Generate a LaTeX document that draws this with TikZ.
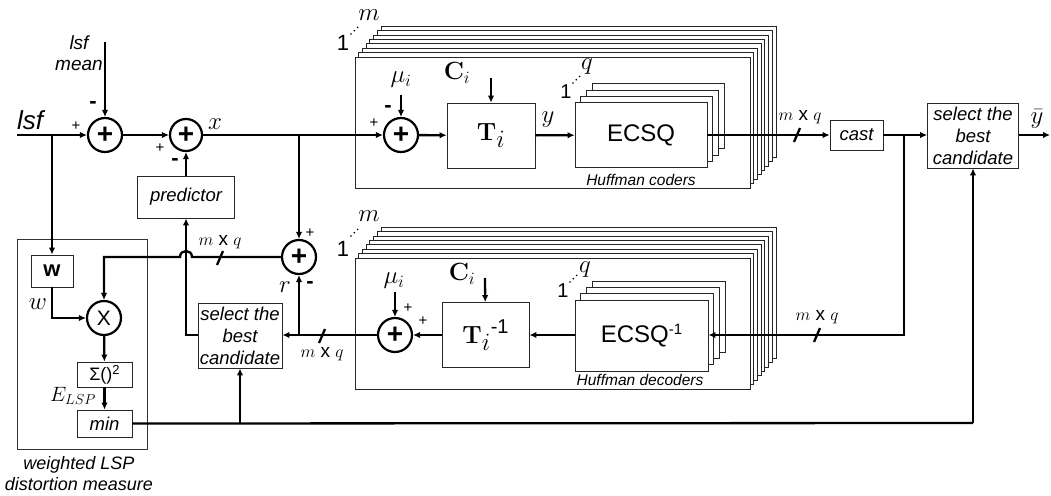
\documentclass[tikz,border=0pt]{standalone}
\usepackage[no-math]{fontspec}
\setmainfont{Liberation Sans}
\usetikzlibrary{arrows.meta}
\newcommand\fsz[1]{\fontsize{#1}{#1}\selectfont}
\begin{document}
\begin{tikzpicture}[x=1pt,y=-1pt,
  sigline/.style={line width=2.3pt},
  arr/.style={line width=2.3pt,-{Latex[length=7pt,width=6.5pt]}},
  slsh/.style={line width=2.3pt},
  blk/.style={draw=black!85,line width=0.8pt,fill=white,inner sep=1pt,align=center},
  stk/.style={draw=black!85,line width=0.8pt,fill=white},
  sumc/.style={circle,draw=black,line width=2.2pt,fill=white,minimum size=34pt,inner sep=0pt,font=\fsz{28}\bfseries},
  it/.style={font=\fontsize{18.5}{22}\selectfont\itshape},
  pm/.style={font=\fsz{15},inner sep=0pt},
  mn/.style={font=\fsz{22}\bfseries,inner sep=0pt},
  mxq/.style={font=\fsz{19},inner sep=0pt},
  mth/.style={font=\fsz{26},inner sep=0pt},
  one/.style={font=\fsz{22},inner sep=0pt}
]
\useasboundingbox (0,0) rectangle (1051,495);

% ---------- weighted LSP distortion measure frame ----------
\draw[draw=black!80,line width=0.8pt] (17,239) rectangle (147,449);
\node[align=center,font=\fontsize{18}{21}\selectfont\itshape] (wlab) at (79,474) {weighted LSP\\distortion measure};

% ---------- encoder stack ----------
\foreach \k in {7,6,...,1}
  \draw[stk] (355+3.7*\k,57-4.4*\k) rectangle (750+3.7*\k,188-4.4*\k);
\draw[stk] (355,57) rectangle (750,188);
\node[one] (e1) at (343,43) {1};
\foreach \t in {0,1,2} \fill (351+3.3*\t,34-3.3*\t) circle (0.9pt);
\node[mth] (em) at (369,15) {$m$};

% ---------- decoder stack ----------
\foreach \k in {7,6,...,1}
  \draw[stk] (355+3.7*\k,258-4.4*\k) rectangle (750+3.7*\k,389-4.4*\k);
\draw[stk] (355,258) rectangle (750,389);
\node[one] (d1) at (343,249) {1};
\foreach \t in {0,1,2} \fill (351+3.3*\t,236-3.3*\t) circle (0.9pt);
\node[mth] (dm) at (369,216) {$m$};

% ---------- encoder contents ----------
\node[sumc] (es) at (401,135) {+};
\node[font=\fsz{25},inner sep=0pt] (emu) at (401,80) {$\mu_i$};
\coordinate (emuc) at (401,95);
\node[mn] (esm) at (388,109) {-};
\node[pm] (esp) at (374,123) {+};
\node[blk,minimum width=88,minimum height=65,font=\fsz{34}] (ti) at (491,135.5) {$\mathbf{T}_i$};
\node[font=\fsz{26},inner sep=0pt] (eci) at (457,73) {$\mathbf{C}_i$};
\coordinate (ecic) at (491,78);
\node[mth] (ylab) at (548,120) {$y$};
\foreach \k in {3,2,1}
  \draw[stk] (575+5.7*\k,102.5-6.3*\k) rectangle (707+5.7*\k,167.5-6.3*\k);
\node[blk,minimum width=132,minimum height=65,font=\fsz{24}] (ecsq) at (641,135) {ECSQ};
\node[one,font=\fsz{20}] (eq1) at (566,92) {1};
\foreach \t in {0,1,2} \fill (573+3.3*\t,83-3.3*\t) circle (0.9pt);
\node[mth] (eq) at (587,67) {$q$};
\node[font=\fsz{15.5}\itshape,inner sep=0pt] (hc) at (641,180) {Huffman coders};

% ---------- decoder contents ----------
\node[sumc] (ds) at (395,335) {+};
\node[font=\fsz{25},inner sep=0pt] (dmu) at (394,281) {$\mu_i$};
\coordinate (dmuc) at (395,292);
\node[pm] (dsp1) at (408,308) {+};
\node[pm] (dsp2) at (423,321) {+};
\node[blk,minimum width=87,minimum height=65,font=\fsz{34}] (tinv) at (485.5,335) {$\mathbf{T}_i$\raisebox{10pt}{\fsz{20}-1}};
\node[font=\fsz{26},inner sep=0pt] (dci) at (462,274) {$\mathbf{C}_i$};
\coordinate (dcic) at (485,278);
\foreach \k in {3,2,1}
  \draw[stk] (575+5.7*\k,300-6.3*\k) rectangle (708+5.7*\k,371-6.3*\k);
\node[blk,minimum width=133,minimum height=71,font=\fsz{24}] (ecsqi) at (641.5,335.5) {ECSQ\raisebox{8pt}{\fsz{15}-1}};
\node[one,font=\fsz{20}] (dq1) at (563,291) {1};
\foreach \t in {0,1,2} \fill (570+3.3*\t,282-3.3*\t) circle (0.9pt);
\node[mth] (dq) at (585,270) {$q$};
\node[font=\fsz{15.5}\itshape,inner sep=0pt] (hd) at (640,380) {Huffman decoders};

% ---------- left part ----------
\coordinate (lsfin) at (17,135);
\node[font=\fsz{26}\itshape,inner sep=0pt] (lsfl) at (30,120) {lsf};
\node[sumc] (s1) at (105,135) {+};
\coordinate (lmc) at (105,42);
\node[font=\fontsize{19}{21}\selectfont\itshape,align=center,inner sep=0pt] (lml) at (79,53) {lsf\\mean};
\node[mn] (s1m) at (93,105) {-};
\node[pm] (s1p) at (76,126) {+};
\node[sumc,minimum size=32pt] (s2) at (186,135) {+};
\node[mth] (xl) at (215,124) {$x$};
\node[pm] (s2p) at (160,148) {+};
\node[mn] (s2m) at (175,162) {-};
\node[blk,minimum width=97,minimum height=42,it] (pred) at (186,197) {predictor};
\node[sumc] (s3) at (299,257) {+};
\node[pm] (s3p) at (310,233) {+};
\node[mth] (rl) at (285,287) {$r$};
\node[mn] (s3m) at (310,285) {-};

\node[blk,minimum width=84,minimum height=65,it] (sel2) at (240,335.5) {select the\\best\\candidate};
\node[blk,minimum width=42,minimum height=32,font=\fsz{22}\bfseries] (wbox) at (52,271) {w};
\node[mth] (wl) at (38,304) {$w$};
\node[sumc,font=\fsz{21}] (xm) at (104,318) {X};
\node[blk,minimum width=55,minimum height=25,font=\fsz{18}] (sgm) at (104.5,374.5) {Σ()\raisebox{6pt}{\fsz{13}2}};
\node[font=\fsz{22},inner sep=0pt] (el) at (73,396) {$E_{LSP}$};
\node[blk,minimum width=55,minimum height=27,it] (minb) at (104.5,423.5) {min};

% ---------- right part ----------
\node[blk,minimum width=53,minimum height=30,it] (cast) at (856.5,135) {cast};
\node[blk,minimum width=91,minimum height=65,it] (sel1) at (973,135.5) {select the\\best\\candidate};
\node[font=\fsz{26},inner sep=0pt] (ybl) at (1037,119) {$\bar{y}$};
\coordinate (yout) at (1050,135);

% ---------- connectors ----------
\draw[arr] (lsfin) -- (s1);
\draw[arr] (lmc) -- (s1);
\draw[arr] (s1) -- (s2);
\draw[arr] (pred) -- (s2);
\draw[arr] (s2) -- (es);
\coordinate (j2) at (299,135);
\draw[arr] (j2) -- (s3);
\draw[arr] (emuc) -- (es);
\draw[arr] (ecic) -- (ti);
\draw[arr] (es) -- (ti);
\draw[arr] (ti) -- (ecsq);
\draw[arr] (ecsq.east) -- (cast.west);
\draw[slsh,shift={(797,135)}] (-3,7) -- (3,-7);
\node[mxq] (l1) at (800,117) {$m$ x $q$};
\draw[arr] (cast.east) -- (sel1.west |- cast.east);
\draw[arr] (sel1.east |- yout) -- (yout);
\coordinate (j5) at (904,135);
\draw[arr] (j5) -- (904,335) -- (ecsqi.east |- 0,335);
\draw[slsh,shift={(817,335)}] (-3,7) -- (3,-7);
\node[mxq] (l2) at (817,317) {$m$ x $q$};
\draw[arr] (ecsqi.west |- 0,335) -- (tinv.east);
\draw[arr] (tinv) -- (ds);
\draw[arr] (dmuc) -- (ds);
\draw[arr] (dcic) -- (tinv);
\draw[arr] (ds) -- (sel2.east |- 0,335);
\draw[slsh,shift={(322,336)}] (-3,7) -- (3,-7);
\node[mxq] (l3) at (322,354) {$m$ x $q$};
\coordinate (j6) at (299,335);
\draw[arr] (j6) -- (s3);
\draw[arr] (s3.west) -- (192,257) .. controls (192,249) and (180,249) .. (180,257) -- (104,257) -- (xm);
\draw[slsh,shift={(220,258)}] (-3,7) -- (3,-7);
\node[mxq] (l4) at (220,242) {$m$ x $q$};
\draw[arr] (sel2.west |- 0,335) -- (186,335) -- (pred);
\coordinate (j1) at (52,135);
\draw[arr] (j1) -- (wbox);
\draw[arr] (wbox.south) -- (52,318) -- (xm);
\draw[arr] (xm) -- (sgm);
\draw[arr] (sgm) -- (minb);
\draw[sigline] (minb.east) -- (973,423) coordinate (j4);
\draw[arr] (j4) -- (sel1.south);
\coordinate (j3) at (240,423);
\draw[arr] (j3) -- (sel2.south);
\end{tikzpicture}
\end{document}
